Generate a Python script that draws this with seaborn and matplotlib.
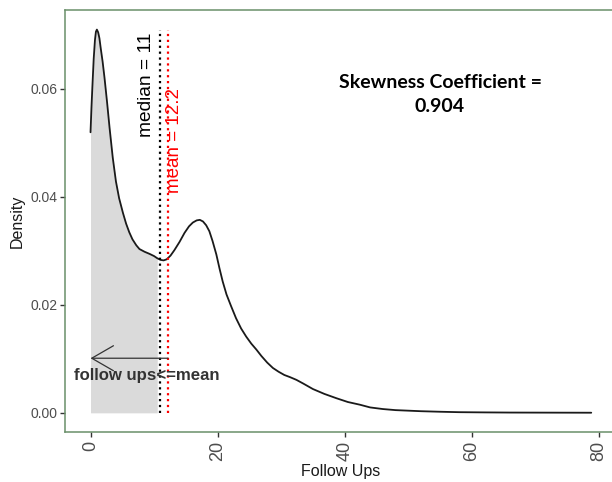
import numpy as np
import pandas as pd
import matplotlib
matplotlib.use("Agg")
import matplotlib.pyplot as plt
import seaborn as sns

# Density curve
follow_ups = [0.0, 0.15, 0.3, 0.5, 0.7, 0.85, 1.0, 1.2, 1.4, 1.6, 1.9, 2.2, 2.6, 3.0, 3.5,
              4.0, 4.5, 5.1, 5.6, 6.1, 6.6, 7.2, 7.7, 8.5, 9.3, 10.0, 10.5, 11.0, 11.5,
              12.0, 12.6, 13.2, 14.0, 14.8, 15.5, 16.1, 16.7, 17.2, 17.7, 18.2, 18.7,
              19.2, 19.8, 20.3, 20.8, 21.4, 22.1, 22.9, 23.7, 24.5, 25.3, 26.1, 26.9,
              27.8, 28.7, 29.6, 30.5, 31.4, 32.4, 33.5, 35.0, 36.8, 38.7, 40.5, 42.4,
              44.0, 46.0, 48.0, 50.0, 52.0, 55.0, 58.0, 62.0, 66.0, 70.0, 74.0, 78.8]
density = [0.0519, 0.0565, 0.0605, 0.0655, 0.0690, 0.0705, 0.0709, 0.0704, 0.0693, 0.0675,
           0.0650, 0.0620, 0.0575, 0.0527, 0.0472, 0.0428, 0.0397, 0.0370, 0.0350, 0.0334,
           0.0321, 0.0310, 0.0303, 0.0298, 0.0294, 0.0290, 0.0286, 0.0283, 0.0282, 0.0284,
           0.0291, 0.0301, 0.0316, 0.0333, 0.0345, 0.0352, 0.0356, 0.0357, 0.0354, 0.0347,
           0.0336, 0.0318, 0.0293, 0.0267, 0.0243, 0.0219, 0.0198, 0.0175, 0.0156, 0.0141,
           0.0128, 0.0117, 0.0105, 0.0093, 0.0083, 0.0076, 0.0070, 0.0066, 0.0061, 0.0054,
           0.0044, 0.0035, 0.0027, 0.0020, 0.0015, 0.0010, 0.0007, 0.0005, 0.0004, 0.0003,
           0.0002, 0.00012, 0.00008, 0.00005, 0.00004, 0.00003, 0.00002]

median_val = 11
mean_val = 12.2
fill_end = 10.9
skew_text = "Skewness Coefficient =\n0.904"
x_ticks = [0, 20, 40, 60, 80]
y_ticks = [0.00, 0.02, 0.04, 0.06]
y_tick_labels = ["0.00", "0.02", "0.04", "0.06"]

sns.set_theme(style="white")
plt.rcParams['font.family'] = ['Liberation Sans', 'DejaVu Sans']

df = pd.DataFrame({"Follow Ups": follow_ups, "Density": density})

fig = plt.figure(figsize=(6.12, 4.82), dpi=100)
ax = fig.add_axes([0.107, 0.1037, 0.9, 0.8753])

# shaded area (follow ups <= mean)
mask = df["Follow Ups"] <= fill_end
ax.fill_between(df.loc[mask, "Follow Ups"], 0, df.loc[mask, "Density"],
                color="#dadada", linewidth=0, zorder=1)

sns.lineplot(data=df, x="Follow Ups", y="Density", ax=ax, color="#1a1a1a",
             linewidth=1.3, zorder=3)

peak = max(density)
ax.vlines([median_val], 0, peak, colors="black", linestyles=":", linewidth=1.6, zorder=4)
ax.vlines([mean_val], 0, peak, colors="red", linestyles=":", linewidth=1.6, zorder=4)

ax.text(8.85, 0.0606, f"median = {median_val}", rotation=90, ha="center", va="center",
        fontsize=13.8, color="black")
ax.text(13.25, 0.0504, f"mean = {mean_val}", rotation=90, ha="center", va="center",
        fontsize=13.5, color="red")

ax.annotate("", xy=(0, 0.0101), xytext=(mean_val, 0.0101),
            arrowprops=dict(arrowstyle="->,head_length=1.3,head_width=0.75",
                            color="#333333", lw=0.9, shrinkA=0, shrinkB=0),
            zorder=5)
ax.text(8.87, 0.0069, "follow ups<=mean", ha="center", va="center",
        fontsize=12.1, fontweight="bold", color="#333333", zorder=6)

ax.text(55.0, 0.0589, skew_text, ha="center", va="center", fontsize=14,
        fontweight="bold", color="black", family=["Lato", "DejaVu Sans"],
        linespacing=1.5)

ax.set_xlim(-3.94, 82.74)
ax.set_ylim(-0.00355, 0.0745)
ax.set_xticks(x_ticks)
ax.set_yticks(y_ticks)
ax.set_yticklabels(y_tick_labels)
ax.tick_params(axis="y", labelsize=10, colors="#4d4d4d", length=3.5, width=1,
               direction="out", left=True, pad=2)
ax.tick_params(axis="x", labelsize=13, colors="#4d4d4d", length=3.5, width=1,
               direction="out", bottom=True, pad=3, labelrotation=90)
for lab in ax.get_xticklabels():
    lab.set_va("top")
ax.tick_params(axis="both", color="#333333")
ax.set_xlabel("Follow Ups", fontsize=11.5, color="#1a1a1a", labelpad=2)
ax.set_ylabel("Density", fontsize=11.5, color="#1a1a1a", labelpad=4)

for s in ax.spines.values():
    s.set_color("#6a8f6a")
    s.set_linewidth(1.1)
ax.grid(False)

fig.savefig("out.png", dpi=100)
